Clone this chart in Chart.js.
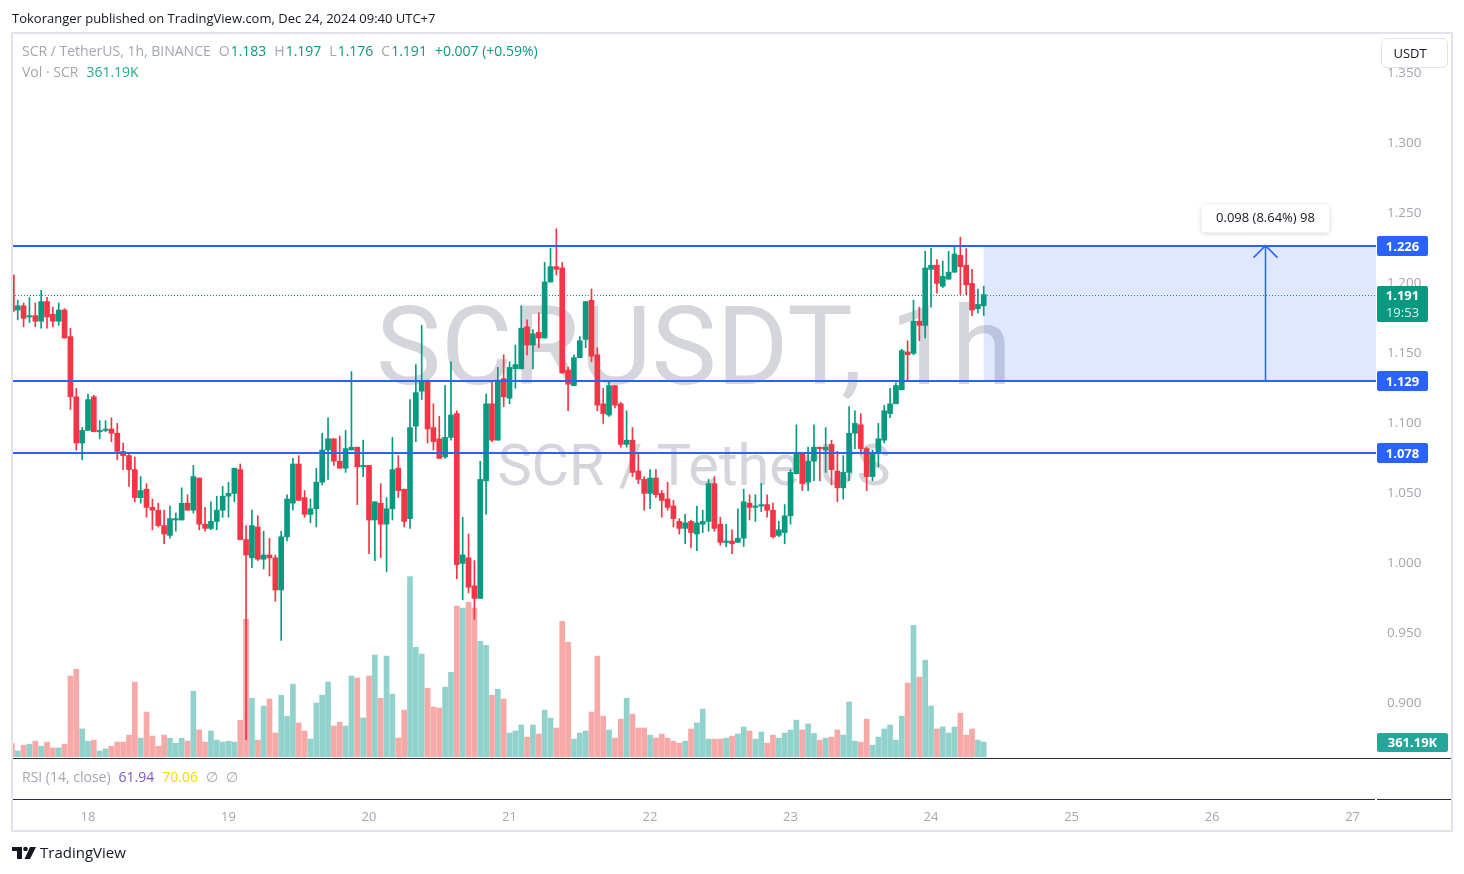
<!DOCTYPE html>
<html lang="en">
<head>
  <meta charset="UTF-8">
  <title>SCRUSDT, 1h</title>
  <style>
    body, html {
      width: 1464px;
      height: 874px;
      margin: 0;
      overflow: hidden;
      background-color: #ffffff;
    }
    #chart-container {
      position: absolute;
      left: 0;
      top: 0;
      width: 1464px;
      height: 874px;
    }
  </style>
</head>
<body>
  <div id="chart-container">
    <canvas id="priceChart" width="1464" height="874"></canvas>
  </div>

  <script src="https://cdn.jsdelivr.net/npm/chart.js"></script>
  <script>
    // hourly candles, first one is 17 Dec 11:00 (hours counted from 18 Dec 00:00)
    const firstHour = -13;

    const opens = [
      1.205, 1.180, 1.183, 1.175, 1.176, 1.172, 1.186, 1.177, 1.172, 1.180,
      1.161, 1.118, 1.085, 1.094, 1.118, 1.093, 1.094, 1.095, 1.092, 1.079,
      1.076, 1.066, 1.046, 1.052, 1.039, 1.037, 1.026, 1.019, 1.030, 1.030,
      1.042, 1.037, 1.060, 1.027, 1.024, 1.029, 1.037, 1.047, 1.049, 1.066,
      1.016, 1.003, 1.025, 1.002, 1.005, 1.003, 0.980, 1.018, 1.042, 1.070,
      1.046, 1.034, 1.038, 1.057, 1.080, 1.088, 1.072, 1.067, 1.080, 1.082,
      1.068, 1.069, 1.030, 1.042, 1.027, 1.038, 1.067, 1.052, 1.031, 1.097,
      1.122, 1.129, 1.096, 1.088, 1.075, 1.089, 1.106, 0.999, 1.003, 0.983,
      0.974, 1.058, 1.113, 1.087, 1.131, 1.117, 1.138, 1.138, 1.168, 1.155,
      1.164, 1.160, 1.200, 1.211, 1.210, 1.137, 1.126, 1.146, 1.159, 1.187,
      1.148, 1.113, 1.105, 1.126, 1.113, 1.084, 1.087, 1.065, 1.059, 1.049,
      1.060, 1.049, 1.045, 1.040, 1.029, 1.024, 1.029, 1.020, 1.027, 1.029,
      1.056, 1.027, 1.014, 1.015, 1.014, 1.017, 1.042, 1.039, 1.040, 1.041,
      1.037, 1.019, 1.021, 1.033, 1.063, 1.077, 1.057, 1.072, 1.082, 1.080,
      1.084, 1.065, 1.053, 1.064, 1.092, 1.098, 1.081, 1.061, 1.078, 1.087,
      1.106, 1.113, 1.123, 1.150, 1.149, 1.172, 1.169, 1.209, 1.212, 1.197,
      1.202, 1.207, 1.219, 1.212, 1.199, 1.181, 1.183
    ];
    const highs = [
      1.206, 1.187, 1.185, 1.189, 1.185, 1.194, 1.189, 1.182, 1.185, 1.181,
      1.167, 1.124, 1.096, 1.120, 1.119, 1.101, 1.101, 1.103, 1.099, 1.085,
      1.077, 1.075, 1.061, 1.056, 1.045, 1.042, 1.037, 1.040, 1.035, 1.053,
      1.048, 1.069, 1.060, 1.039, 1.043, 1.047, 1.054, 1.057, 1.067, 1.070,
      1.026, 1.037, 1.033, 1.022, 1.017, 1.005, 1.022, 1.048, 1.074, 1.076,
      1.051, 1.045, 1.067, 1.092, 1.103, 1.088, 1.090, 1.094, 1.136, 1.082,
      1.087, 1.069, 1.043, 1.056, 1.046, 1.089, 1.076, 1.052, 1.116, 1.141,
      1.169, 1.130, 1.113, 1.104, 1.126, 1.143, 1.108, 1.032, 1.020, 1.001,
      1.072, 1.120, 1.129, 1.139, 1.148, 1.143, 1.155, 1.183, 1.173, 1.166,
      1.178, 1.214, 1.224, 1.238, 1.214, 1.139, 1.148, 1.161, 1.186, 1.195,
      1.153, 1.124, 1.129, 1.126, 1.114, 1.108, 1.096, 1.078, 1.061, 1.066,
      1.066, 1.051, 1.057, 1.044, 1.031, 1.034, 1.030, 1.040, 1.037, 1.059,
      1.061, 1.032, 1.027, 1.023, 1.038, 1.052, 1.048, 1.048, 1.056, 1.048,
      1.042, 1.029, 1.041, 1.066, 1.098, 1.077, 1.082, 1.098, 1.082, 1.096,
      1.087, 1.079, 1.076, 1.111, 1.108, 1.106, 1.082, 1.080, 1.099, 1.112,
      1.124, 1.128, 1.152, 1.158, 1.187, 1.182, 1.222, 1.224, 1.216, 1.215,
      1.222, 1.226, 1.232, 1.224, 1.209, 1.195, 1.197
    ];
    const lows = [
      1.178, 1.173, 1.168, 1.171, 1.168, 1.167, 1.167, 1.168, 1.169, 1.160,
      1.109, 1.080, 1.073, 1.094, 1.093, 1.088, 1.093, 1.086, 1.073, 1.066,
      1.054, 1.043, 1.042, 1.032, 1.023, 1.025, 1.013, 1.017, 1.022, 1.030,
      1.037, 1.035, 1.023, 1.022, 1.023, 1.023, 1.032, 1.032, 1.043, 1.016,
      0.873, 0.996, 1.001, 0.995, 0.990, 0.972, 0.944, 1.015, 1.037, 1.044,
      1.032, 1.028, 1.025, 1.055, 1.059, 1.069, 1.067, 1.064, 1.080, 1.041,
      1.061, 1.006, 1.001, 1.003, 0.993, 1.030, 1.046, 1.025, 1.024, 1.086,
      1.116, 1.085, 1.080, 1.074, 1.074, 1.087, 0.988, 0.973, 0.978, 0.959,
      0.974, 1.034, 1.086, 1.087, 1.111, 1.113, 1.124, 1.138, 1.148, 1.138,
      1.153, 1.160, 1.200, 1.205, 1.135, 1.108, 1.126, 1.146, 1.153, 1.143,
      1.108, 1.099, 1.104, 1.110, 1.082, 1.082, 1.061, 1.056, 1.037, 1.038,
      1.046, 1.032, 1.037, 1.025, 1.020, 1.013, 1.010, 1.008, 1.021, 1.022,
      1.022, 1.012, 1.011, 1.006, 1.014, 1.011, 1.030, 1.029, 1.036, 1.032,
      1.017, 1.018, 1.013, 1.027, 1.063, 1.051, 1.051, 1.058, 1.058, 1.064,
      1.055, 1.043, 1.045, 1.058, 1.081, 1.077, 1.051, 1.058, 1.068, 1.085,
      1.103, 1.113, 1.123, 1.129, 1.148, 1.158, 1.160, 1.182, 1.192, 1.196,
      1.202, 1.207, 1.191, 1.191, 1.176, 1.178, 1.176
    ];
    const closes = [
      1.179, 1.183, 1.174, 1.176, 1.172, 1.186, 1.175, 1.172, 1.180, 1.160,
      1.118, 1.085, 1.094, 1.116, 1.093, 1.094, 1.095, 1.092, 1.079, 1.076,
      1.066, 1.046, 1.051, 1.039, 1.037, 1.026, 1.020, 1.031, 1.031, 1.042,
      1.037, 1.061, 1.027, 1.024, 1.029, 1.037, 1.047, 1.049, 1.067, 1.016,
      1.005, 1.026, 1.002, 1.005, 1.003, 0.980, 1.018, 1.045, 1.070, 1.044,
      1.034, 1.038, 1.057, 1.080, 1.088, 1.072, 1.067, 1.081, 1.082, 1.068,
      1.069, 1.030, 1.043, 1.027, 1.038, 1.066, 1.051, 1.029, 1.096, 1.121,
      1.129, 1.095, 1.086, 1.074, 1.089, 1.105, 0.998, 1.005, 0.982, 0.974,
      1.059, 1.113, 1.087, 1.130, 1.118, 1.139, 1.141, 1.167, 1.155, 1.163,
      1.160, 1.200, 1.211, 1.209, 1.135, 1.127, 1.146, 1.158, 1.186, 1.147,
      1.112, 1.106, 1.126, 1.112, 1.084, 1.087, 1.064, 1.059, 1.049, 1.060,
      1.048, 1.044, 1.039, 1.031, 1.024, 1.028, 1.021, 1.028, 1.029, 1.056,
      1.024, 1.014, 1.015, 1.013, 1.017, 1.043, 1.039, 1.040, 1.041, 1.037,
      1.018, 1.023, 1.033, 1.064, 1.077, 1.056, 1.072, 1.082, 1.081, 1.082,
      1.066, 1.053, 1.064, 1.092, 1.099, 1.081, 1.061, 1.077, 1.088, 1.108,
      1.113, 1.126, 1.151, 1.148, 1.172, 1.169, 1.210, 1.212, 1.199, 1.204,
      1.207, 1.220, 1.211, 1.198, 1.180, 1.184, 1.191
    ];
    // volume in thousands of SCR
    const volumes = [
      328, 148, 287, 312, 385, 262, 361, 221, 221, 312,
      1968, 2132, 681, 385, 410, 148, 197, 262, 361, 361,
      533, 1820, 459, 1091, 508, 262, 533, 459, 336, 459,
      385, 1599, 656, 361, 631, 410, 361, 385, 361, 894,
      3346, 1427, 410, 1238, 1410, 582, 1501, 992, 1771, 828,
      631, 435, 1312, 1501, 1820, 754, 845, 754, 1968, 1919,
      951, 1968, 2476, 1427, 2452, 1525, 459, 1140, 4387, 2665,
      2501, 1673, 1214, 1189, 1697, 2058, 3665, 3616, 3756, 3616,
      2813, 2714, 1501, 1648, 1410, 582, 631, 779, 484, 779,
      558, 1140, 943, 705, 3296, 2788, 435, 582, 631, 1091,
      2452, 992, 656, 459, 918, 1427, 1041, 705, 705, 533,
      459, 558, 459, 385, 336, 385, 681, 828, 1164, 435,
      435, 435, 459, 508, 558, 730, 631, 435, 607, 336,
      533, 459, 582, 656, 894, 656, 804, 574, 410, 459,
      484, 656, 533, 1337, 385, 361, 918, 287, 484, 681,
      779, 410, 992, 1796, 3198, 1943, 2353, 1238, 681, 730,
      582, 730, 1066, 533, 681, 410, 361.19
    ];

    const dayTickHours = [0, 24, 48, 72, 96, 120, 144, 168, 192, 216];
    const dayLabels = ['18', '19', '20', '21', '22', '23', '24', '25', '26', '27'];
    const priceTicks = [0.900, 0.950, 1.000, 1.050, 1.100, 1.150, 1.200, 1.250, 1.300, 1.350];
    const levels = [1.226, 1.129, 1.078];
    const lastPrice = 1.191;
    const lastVolume = 361.19;
    const rangeFrom = 153;   // 24 Dec 09:00
    const rangeMid = 201;    // 26 Dec 09:00, where the arrow stands
    const rangeTo = 249;

    const FONT = '"Open Sans", "Noto Sans", sans-serif';
    const MARK_FONT = 'Roboto, "Noto Sans", sans-serif';
    const UP = '#089981';
    const DOWN = '#f23645';
    const GREY = '#a3a6af';
    const BLUE = '#2962ff';

    const hours = closes.map((_, i) => firstHour + i);
    const isUp = closes.map((c, i) => c >= opens[i]);

    function roundRect(ctx, x, y, w, h, r) {
      ctx.beginPath();
      ctx.moveTo(x + r, y);
      ctx.arcTo(x + w, y, x + w, y + h, r);
      ctx.arcTo(x + w, y + h, x, y + h, r);
      ctx.arcTo(x, y + h, x, y, r);
      ctx.arcTo(x, y, x + w, y, r);
      ctx.closePath();
    }

    function fitText(ctx, s, width, x, y) {
      ctx.font = '100px ' + MARK_FONT;
      const size = 100 * width / ctx.measureText(s).width;
      ctx.font = size.toFixed(1) + 'px ' + MARK_FONT;
      ctx.fillText(s, x, y);
    }

    // draws pieces of text one after another, returns the end x
    function textRun(ctx, parts, x, y) {
      ctx.textAlign = 'left';
      ctx.textBaseline = 'middle';
      ctx.font = '14px ' + FONT;
      parts.forEach(([s, color, gap]) => {
        ctx.fillStyle = color;
        ctx.fillText(s, x, y);
        x += ctx.measureText(s).width + gap;
      });
      return x;
    }

    function priceTag(ctx, text, y, color) {
      ctx.fillStyle = color;
      roundRect(ctx, 1377, y - 10, 51, 20, 2);
      ctx.fill();
      ctx.fillStyle = '#ffffff';
      ctx.font = 'bold 13px ' + FONT;
      ctx.textAlign = 'center';
      ctx.textBaseline = 'middle';
      ctx.fillText(text, 1402.5, y + 1);
    }

    const decor = {
      id: 'decor',
      beforeDatasetsDraw(chart) {
        const { ctx, chartArea: a, scales: { x, y } } = chart;
        ctx.save();
        ctx.beginPath();
        ctx.rect(a.left, a.top, a.right - a.left, a.bottom - a.top);
        ctx.clip();

        // watermark
        ctx.fillStyle = '#d5d6db';
        ctx.textAlign = 'center';
        ctx.textBaseline = 'alphabetic';
        const cx = (a.left + a.right) / 2;
        fitText(ctx, 'SCRUSDT, 1h', 636, cx, 384);
        fitText(ctx, 'SCR / TetherUS', 393, cx, 485);

        // measured range box
        const x0 = x.getPixelForValue(rangeFrom);
        const x1 = x.getPixelForValue(rangeTo);
        const yTop = y.getPixelForValue(levels[0]);
        const yBot = y.getPixelForValue(levels[1]);
        ctx.fillStyle = 'rgba(41, 98, 255, 0.15)';
        ctx.fillRect(x0, yTop, x1 - x0, yBot - yTop);

        // last price dotted line
        const yp = Math.round(y.getPixelForValue(lastPrice)) + 0.5;
        ctx.strokeStyle = UP;
        ctx.lineWidth = 1;
        ctx.setLineDash([1, 2]);
        ctx.beginPath();
        ctx.moveTo(a.left, yp);
        ctx.lineTo(a.right, yp);
        ctx.stroke();
        ctx.restore();
      },
      afterDatasetsDraw(chart) {
        const { ctx, chartArea: a, scales: { x, y } } = chart;
        ctx.save();
        ctx.strokeStyle = BLUE;
        ctx.lineWidth = 2;
        levels.forEach(v => {
          const yy = Math.round(y.getPixelForValue(v));
          ctx.beginPath();
          ctx.moveTo(a.left, yy);
          ctx.lineTo(a.right, yy);
          ctx.stroke();
        });

        // arrow of the measure tool
        const ax = Math.round(x.getPixelForValue(rangeMid)) + 0.5;
        const yTop = y.getPixelForValue(levels[0]);
        const yBot = y.getPixelForValue(levels[1]);
        ctx.lineWidth = 1.5;
        ctx.beginPath();
        ctx.moveTo(ax, yBot);
        ctx.lineTo(ax, yTop);
        ctx.moveTo(ax - 12, yTop + 12);
        ctx.lineTo(ax, yTop);
        ctx.lineTo(ax + 12, yTop + 12);
        ctx.stroke();

        // its label
        ctx.shadowColor = 'rgba(0, 0, 0, 0.18)';
        ctx.shadowBlur = 5;
        ctx.shadowOffsetY = 1;
        ctx.fillStyle = '#ffffff';
        roundRect(ctx, ax - 64, yTop - 41, 128, 28, 4);
        ctx.fill();
        ctx.shadowColor = 'transparent';
        ctx.fillStyle = '#131722';
        ctx.font = '13px ' + FONT;
        ctx.textAlign = 'center';
        ctx.textBaseline = 'middle';
        ctx.fillText('0.098 (8.64%) 98', ax, yTop - 27);
        ctx.restore();
      },
      afterDraw(chart) {
        const { ctx, scales: { y, yv } } = chart;
        ctx.save();

        // tags on the price scale
        levels.forEach(v => priceTag(ctx, v.toFixed(3), Math.round(y.getPixelForValue(v)), BLUE));
        const yp = Math.round(y.getPixelForValue(lastPrice));
        ctx.fillStyle = UP;
        roundRect(ctx, 1377, yp - 9, 51, 36, 2);
        ctx.fill();
        ctx.fillStyle = '#ffffff';
        ctx.font = 'bold 13px ' + FONT;
        ctx.textAlign = 'center';
        ctx.textBaseline = 'middle';
        ctx.fillText(lastPrice.toFixed(3), 1402.5, yp + 1);
        ctx.fillStyle = 'rgba(255, 255, 255, 0.85)';
        ctx.font = '13px ' + FONT;
        ctx.fillText('19:53', 1402.5, yp + 18);

        const yvol = Math.round(yv.getPixelForValue(lastVolume));
        ctx.fillStyle = '#26a69a';
        roundRect(ctx, 1377, yvol - 9, 71, 19, 2);
        ctx.fill();
        ctx.fillStyle = '#ffffff';
        ctx.font = 'bold 13px ' + FONT;
        ctx.fillText('361.19K', 1412.5, yvol + 1);

        // currency button
        ctx.fillStyle = '#ffffff';
        ctx.strokeStyle = '#e0e3eb';
        ctx.lineWidth = 1;
        roundRect(ctx, 1381.5, 38.5, 66, 29, 5);
        ctx.fill();
        ctx.stroke();
        ctx.fillStyle = '#131722';
        ctx.font = '13px ' + FONT;
        ctx.fillText('USDT', 1410, 54);

        // pane separators and frame
        ctx.fillStyle = '#2a2e39';
        ctx.fillRect(12, 758, 1440, 1);
        ctx.fillRect(12, 799, 1363, 1);
        ctx.fillRect(1377, 799, 75, 1);
        ctx.strokeStyle = '#e0e3eb';
        ctx.lineWidth = 2;
        ctx.strokeRect(12, 33, 1440, 798);

        // header and legends
        ctx.textAlign = 'left';
        ctx.textBaseline = 'middle';
        ctx.fillStyle = '#131722';
        ctx.font = '13px ' + FONT;
        ctx.fillText('Tokoranger published on TradingView.com, Dec 24, 2024 09:40 UTC+7', 12, 19);

        textRun(ctx, [
          ['SCR / TetherUS, 1h, BINANCE', GREY, 8],
          ['O', GREY, 1], ['1.183', UP, 8],
          ['H', GREY, 1], ['1.197', UP, 8],
          ['L', GREY, 1], ['1.176', UP, 8],
          ['C', GREY, 1], ['1.191', UP, 8],
          ['+0.007 (+0.59%)', UP, 0]
        ], 22, 52);
        textRun(ctx, [['Vol · SCR', GREY, 8], ['361.19K', '#22ab94', 0]], 22, 73);
        textRun(ctx, [
          ['RSI (14, close)', GREY, 8],
          ['61.94', '#7e57c2', 8],
          ['70.06', '#f5dd00', 8],
          ['∅', GREY, 8],
          ['∅', GREY, 0]
        ], 22, 778);

        // TradingView logo
        ctx.fillStyle = '#131722';
        ctx.fillRect(12, 847, 10, 4);
        ctx.fillRect(17, 847, 5, 12);
        ctx.beginPath();
        ctx.arc(25.5, 849, 2.3, 0, Math.PI * 2);
        ctx.fill();
        ctx.beginPath();
        ctx.moveTo(30, 847);
        ctx.lineTo(36, 847);
        ctx.lineTo(30, 859);
        ctx.lineTo(24.5, 859);
        ctx.closePath();
        ctx.fill();
        ctx.font = '15px ' + FONT;
        ctx.fillText('TradingView', 40, 854);
        ctx.restore();
      }
    };

    const createChart = () => {
      const ctx = document.getElementById('priceChart').getContext('2d');
      new Chart(ctx, {
        type: 'bar',
        data: {
          datasets: [
            {
              label: 'Body',
              data: hours.map((h, i) => ({ x: h, y: [opens[i], closes[i]] })),
              backgroundColor: isUp.map(u => (u ? UP : DOWN)),
              barThickness: 5,
              minBarLength: 1,
              grouped: false,
              order: 1,
              yAxisID: 'y'
            },
            {
              label: 'Wick',
              data: hours.map((h, i) => ({ x: h, y: [lows[i], highs[i]] })),
              backgroundColor: isUp.map(u => (u ? UP : DOWN)),
              barThickness: 1,
              grouped: false,
              order: 2,
              yAxisID: 'y'
            },
            {
              label: 'Volume',
              data: hours.map((h, i) => ({ x: h, y: volumes[i] })),
              backgroundColor: isUp.map(u => (u ? 'rgba(38, 166, 154, 0.5)' : 'rgba(239, 83, 80, 0.5)')),
              barThickness: 5,
              grouped: false,
              order: 3,
              yAxisID: 'yv'
            }
          ]
        },
        options: {
          responsive: false,
          animation: false,
          devicePixelRatio: 1,
          layout: { padding: { left: 12, top: 34, right: 12, bottom: 42 } },
          plugins: {
            legend: { display: false },
            tooltip: { enabled: false }
          },
          scales: {
            x: {
              type: 'linear',
              min: -12.98,
              max: 220,
              offset: false,
              grid: { display: false, drawTicks: false },
              border: { display: false },
              afterBuildTicks: s => { s.ticks = dayTickHours.map(v => ({ value: v })); },
              afterFit: s => { s.height = 75; },
              ticks: {
                autoSkip: false,
                maxRotation: 0,
                padding: 52,
                color: GREY,
                font: { family: FONT, size: 13 },
                callback: v => dayLabels[dayTickHours.indexOf(v)]
              }
            },
            y: {
              type: 'linear',
              position: 'right',
              min: 0.86071,
              max: 1.37714,
              grid: { display: false, drawTicks: false },
              border: { display: false },
              afterBuildTicks: s => { s.ticks = priceTicks.map(v => ({ value: v })); },
              afterFit: s => { s.width = 76; },
              ticks: {
                padding: 11,
                labelOffset: 1,
                color: GREY,
                font: { family: FONT, size: 13.5 },
                callback: v => Number(v).toFixed(3)
              }
            },
            yv: {
              type: 'linear',
              display: false,
              min: 0,
              max: 17570
            }
          }
        },
        plugins: [decor]
      });
    };

    createChart();
  </script>
</body>
</html>
